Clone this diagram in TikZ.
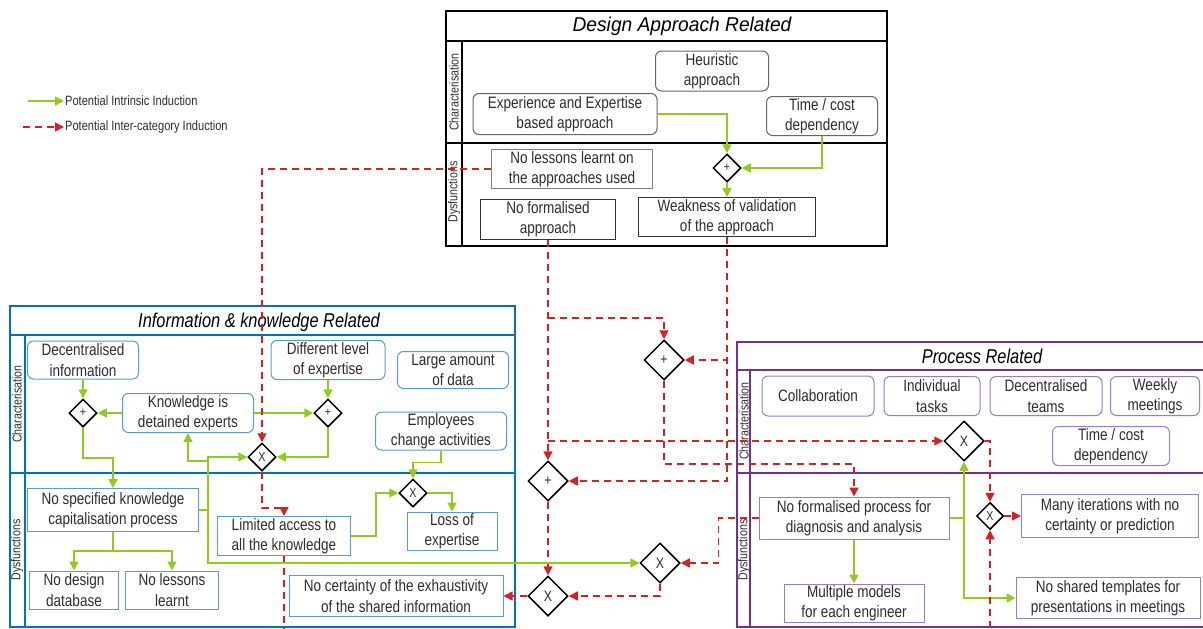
\documentclass[tikz,border=0pt]{standalone}
\usepackage{fontspec}
\setmainfont{Liberation Sans}[FakeStretch=0.82]
\newfontfamily\widesans{Liberation Sans}[FakeStretch=0.96]
\usetikzlibrary{shapes.geometric,arrows.meta}

\definecolor{indgreen}{RGB}{146,202,30}
\definecolor{indred}{RGB}{214,32,38}
\definecolor{infoblue}{RGB}{0,112,192}
\definecolor{infolight}{RGB}{91,155,213}
\definecolor{procpurple}{RGB}{112,48,160}
\definecolor{proclight}{RGB}{160,120,205}
\definecolor{txtgray}{RGB}{45,45,45}

\begin{document}
\begin{tikzpicture}[x=1pt, y=-1pt,
	box/.style={draw, align=center, inner sep=0pt, line width=1pt, text=txtgray,
		font=\fontsize{16.5}{20.5}\selectfont},
	charbox/.style={box, rounded corners=6pt},
	gate/.style={draw, diamond, aspect=1, inner sep=0pt, minimum size=28pt,
		line width=1.5pt, text=txtgray, font=\fontsize{13}{13}\selectfont},
	biggate/.style={gate, minimum size=40pt, font=\fontsize{15}{15}\selectfont},
	title/.style={font=\fontsize{20}{20}\selectfont\itshape, text=black},
	strip/.style={rotate=90, font=\fontsize{13}{13}\selectfont, text=txtgray},
	legend/.style={font=\fontsize{13.5}{13.5}\selectfont, text=txtgray, inner sep=1pt, anchor=west},
	intr/.style={draw=indgreen, line width=1.6pt, -{Triangle[length=9pt,width=9pt]}},
	inter/.style={draw=indred, line width=1.5pt, dash pattern=on 7pt off 5pt,
		-{Triangle[length=9pt,width=9pt]}}
]
	\useasboundingbox (0,0) rectangle (1203,629);

	% legend
	\coordinate (lgi) at (28,101);
	\coordinate (lgx) at (23,127);
	\node[legend] (lgit) at (64,101) {Potential Intrinsic Induction};
	\node[legend] (lgxt) at (64,127) {Potential Inter-category Induction};
	\draw[intr] (lgi) -- (lgit.west);
	\draw[inter] (lgx) -- (lgxt.west);

	% design approach panel
	\draw[line width=2pt] (446,11) rectangle (887,246);
	\draw[line width=2pt] (446,41) -- (887,41);
	\draw[line width=1.5pt] (446,143) -- (887,143);
	\draw[line width=1.5pt] (462,41) -- (462,246);
	\node[title, font=\fontsize{20}{20}\selectfont\widesans\itshape] (dtitle) at (682,26) {Design Approach Related};
	\node[strip] (dchar) at (454,92) {Characterisation};
	\node[strip] (ddys) at (454,192) {Dysfunctions};

	\node[charbox, draw=black!60, minimum width=113, minimum height=40] (heur) at (712,71) {Heuristic\\approach};
	\node[charbox, draw=black!60, minimum width=184, minimum height=41] (expe) at (565,114) {Experience and Expertise\\based approach};
	\node[charbox, draw=black!60, minimum width=111, minimum height=39] (dtime) at (822,116) {Time / cost\\dependency};
	\node[gate] (dplus) at (727,168) {+};
	\node[box, draw=black!50, minimum width=161, minimum height=39] (nolessa) at (572,169) {No lessons learnt on\\the approaches used};
	\node[box, draw=black!80, minimum width=135, minimum height=40] (noform) at (548,219) {No formalised\\approach};
	\node[box, draw=black!80, minimum width=177, minimum height=39] (weak) at (727,217) {Weakness of validation\\of the approach};

	\draw[intr] (expe.east) -| (dplus.north);
	\draw[intr] (dtime.south) |- (dplus.east);
	\draw[intr] (dplus.south) -- (weak.north);

	% information & knowledge panel
	\draw[infoblue, line width=2pt] (10,306) rectangle (515,627);
	\draw[infoblue, line width=2pt] (10,335) -- (515,335);
	\draw[infoblue, line width=1.5pt] (10,473) -- (515,473);
	\draw[infoblue, line width=1.5pt] (25,335) -- (25,627);
	\node[title] (ititle) at (259,322) {Information \& knowledge Related};
	\node[strip] (ichar) at (17,404) {Characterisation};
	\node[strip] (idys) at (17,550) {Dysfunctions};

	\node[charbox, draw=infolight, minimum width=111, minimum height=38] (decen) at (83,360) {Decentralised\\information};
	\node[charbox, draw=infolight, minimum width=114, minimum height=39] (difflev) at (328,360) {Different level\\of expertise};
	\node[charbox, draw=infolight, minimum width=111, minimum height=37] (large) at (453,370) {Large amount\\of data};
	\node[charbox, draw=infolight, minimum width=131, minimum height=39] (knowl) at (188,413) {Knowledge is\\detained experts};
	\node[charbox, draw=infolight, minimum width=131, minimum height=38] (employ) at (441,431) {Employees\\change activities};
	\node[gate] (iplusl) at (83,413) {+};
	\node[gate] (iplusr) at (328,413) {+};
	\node[gate] (ixa) at (262,457) {X};
	\node[gate] (ixb) at (413,493) {X};

	\node[box, draw=infolight, minimum width=171, minimum height=43] (nospec) at (113,510) {No specified knowledge\\capitalisation process};
	\node[box, draw=infolight, minimum width=133, minimum height=39] (limit) at (284,536) {Limited access to\\all the knowledge};
	\node[box, draw=infolight, minimum width=90, minimum height=38] (loss) at (452,531) {Loss of\\expertise};
	\node[box, draw=infolight, minimum width=89, minimum height=38] (nodesign) at (74,590) {No design\\database};
	\node[box, draw=infolight, minimum width=93, minimum height=38] (nolessb) at (172,590) {No lessons\\learnt};
	\node[box, draw=infolight, minimum width=214, minimum height=41] (nocert) at (396,596) {No certainty of the exhaustivity\\of the shared information};

	\draw[intr] (decen.south) -- (iplusl.north);
	\draw[intr] (knowl.west) -- (iplusl.east);
	\draw[intr] (knowl.east) -- (iplusr.west);
	\draw[intr] (difflev.south) -- (iplusr.north);
	\draw[intr] (iplusr.south) |- (ixa.east);
	\draw[intr] (iplusl.south) -- ++(0,30) -| (nospec.north);

	\coordinate (gj) at (208,510);
	\coordinate (gk) at (188,461);
	\draw[indgreen, line width=1.6pt] (nospec.east) -- (gj);
	\draw[intr] (gj) |- (gk) -- (knowl.south);
	\draw[intr] (gj) |- (ixa.west);
	\draw[intr] (nospec.south) -- ++(0,19) -| (nodesign.north);
	\draw[intr] (nospec.south) -- ++(0,19) -| (nolessb.north);
	\draw[intr] (limit.east) -- ++(25,0) |- (ixb.west);
	\draw[intr] (employ.south) -- ++(0,12) -| (ixb.north);
	\draw[intr] (ixb.east) -| (loss.north);

	% process panel
	\draw[procpurple, line width=2pt] (737,342) rectangle (1215,627);
	\draw[procpurple, line width=2pt] (737,370) -- (1215,370);
	\draw[procpurple, line width=1.5pt] (737,473) -- (1215,473);
	\draw[procpurple, line width=1.5pt] (750,370) -- (750,627);
	\node[title] (ptitle) at (982,356) {Process Related};
	\node[strip] (pchar) at (744,421) {Characterisation};
	\node[strip] (pdys) at (744,550) {Dysfunctions};

	\node[charbox, draw=proclight, minimum width=112, minimum height=40] (collab) at (818,396) {Collaboration};
	\node[charbox, draw=proclight, minimum width=96, minimum height=39] (indiv) at (932,396) {Individual\\tasks};
	\node[charbox, draw=proclight, minimum width=112, minimum height=39] (dteams) at (1046,396) {Decentralised\\teams};
	\node[charbox, draw=proclight, minimum width=89, minimum height=39] (weekly) at (1155,396) {Weekly\\meetings};
	\node[charbox, draw=proclight, minimum width=117, minimum height=39] (ptime) at (1111,446) {Time / cost\\dependency};
	\node[biggate] (pxa) at (964,441) {X};
	\node[gate, minimum size=27pt] (pxb) at (990,516) {X};

	\node[box, draw=proclight, minimum width=190, minimum height=42] (pnoform) at (854,518) {No formalised process for\\diagnosis and analysis};
	\node[box, draw=proclight, minimum width=177, minimum height=43] (many) at (1110,516) {Many iterations with no\\certainty or prediction};
	\node[box, draw=proclight, minimum width=140, minimum height=38] (multi) at (854,603) {Multiple models\\for each engineer};
	\node[box, draw=proclight, minimum width=184, minimum height=41] (noshared) at (1108,598) {No shared templates for\\presentations in meetings};

	\coordinate (pg) at (964,518);
	\draw[indgreen, line width=1.6pt] (pnoform.east) -- (pg);
	\draw[intr] (pg) -- (pxa.south);
	\draw[intr] (pg) |- (noshared.west);
	\draw[intr] (pnoform.south) -- (multi.north);

	% gateways between the panels
	\node[biggate] (mplusa) at (664,360) {+};
	\node[biggate] (mplusb) at (548,481) {+};
	\node[biggate] (mxa) at (660,563) {X};
	\node[biggate] (mxb) at (548,596) {X};

	% inter-category inductions
	\coordinate (jtop) at (548,318);
	\coordinate (ibot) at (284,640);
	\coordinate (pbot) at (990,640);
	\draw[inter] (nolessa.west) -| (ixa.north);
	\draw[inter] (ixa.south) -- ++(0,36) -| (limit.north);
	\draw[inter, -] (limit.south) -- (ibot);

	\draw[inter] (noform.south) -- (mplusb.north);
	\draw[inter] (jtop) -| (mplusa.north);
	\draw[inter] (noform.south |- pxa.west) -- (pxa.west);
	\draw[inter] (weak.south) |- (mplusa.east);
	\draw[inter] (weak.south) |- (mplusb.east);
	\draw[inter] (mplusa.south) -- ++(0,83) -| (pnoform.north);
	\draw[inter] (mplusb.south) -- (mxb.north);
	\draw[inter] (mxb.west) -- (nocert.east);
	\draw[inter] (mxa.south) |- (mxb.east);
	\draw[inter] (pnoform.west) -- ++(-40,0) |- (mxa.east);
	\draw[intr] (gj) |- (mxa.west);

	\draw[inter] (pxa.east) -| (pxb.north);
	\draw[inter] (pbot) -- (pxb.south);
	\draw[inter] (pxb.east) -- (many.west);
\end{tikzpicture}
\end{document}
